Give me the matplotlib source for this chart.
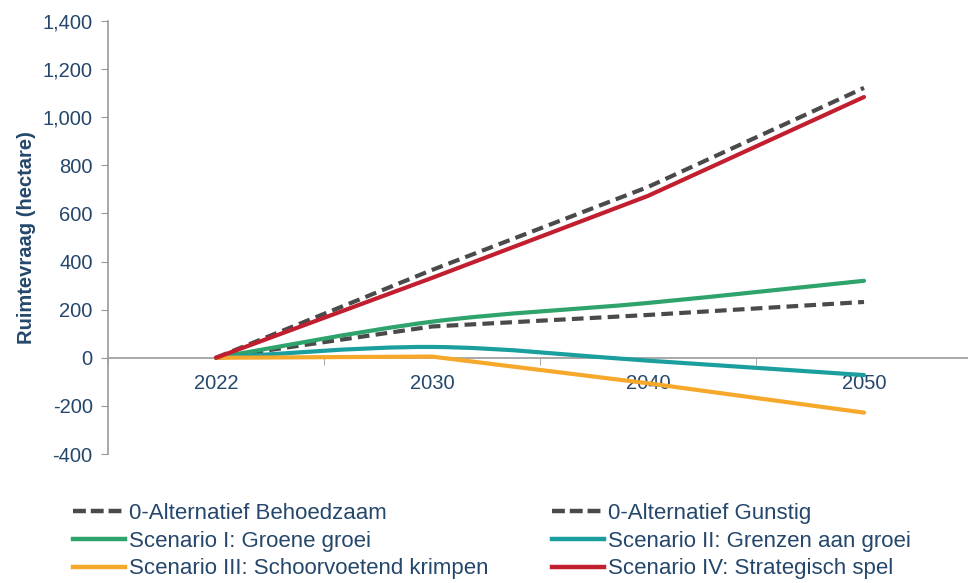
import matplotlib
matplotlib.use("Agg")
import matplotlib.pyplot as plt
from matplotlib.path import Path
from matplotlib.patches import PathPatch
from matplotlib.lines import Line2D
import numpy as np

plt.rcParams['font.family'] = ['Liberation Sans', 'DejaVu Sans']

years = ["2022", "2030", "2040", "2050"]
behoedzaam = [0, 130, 178, 232]
gunstig = [0, 365, 710, 1122]
groene_groei = [0, 150, 228, 320]
grenzen_groei = [0, 45, -12, -72]
schoorvoetend = [0, 5, -106, -228]
strategisch = [0, 332, 673, 1084]

labels = ["0-Alternatief Behoedzaam", "0-Alternatief Gunstig",
          "Scenario I: Groene groei", "Scenario II: Grenzen aan groei",
          "Scenario III: Schoorvoetend krimpen", "Scenario IV: Strategisch spel"]

yticks = [-400, -200, 0, 200, 400, 600, 800, 1000, 1200, 1400]

c_dash = "#4a4a4a"
c_green = "#2ea36b"
c_teal = "#1b9e9e"
c_orange = "#f5a82a"
c_red = "#c11f30"
c_text = "#24476b"
c_axis = "#9a9a9a"

fig = plt.figure(figsize=(9.68, 5.83), dpi=100)
ax = fig.add_axes([108/968, 1-454/583, 864/968, (454-21)/583])

x = np.arange(len(years))
lw = 3.0
dash = (2.8, 1.5)


def smooth_path(xs, ys):
    pts = np.column_stack([xs, ys]).astype(float)
    n = len(pts)
    verts = [pts[0]]
    codes = [Path.MOVETO]
    for i in range(n - 1):
        p0 = pts[i - 1] if i > 0 else pts[i]
        p1 = pts[i]
        p2 = pts[i + 1]
        p3 = pts[i + 2] if i + 2 < n else pts[i + 1]
        c1 = p1 + (p2 - p0) / 6.0
        c2 = p2 - (p3 - p1) / 6.0
        verts += [c1, c2, p2]
        codes += [Path.CURVE4] * 3
    return Path(verts, codes)


ax.plot(x, behoedzaam, color=c_dash, lw=lw, dashes=dash, zorder=3)
ax.plot(x, gunstig, color=c_dash, lw=lw, dashes=dash, zorder=3)
ax.add_patch(PathPatch(smooth_path(x, groene_groei), facecolor='none', edgecolor=c_green,
                       lw=lw, capstyle='round', zorder=4))
ax.add_patch(PathPatch(smooth_path(x, grenzen_groei), facecolor='none', edgecolor=c_teal,
                       lw=lw, capstyle='round', zorder=4))
ax.plot(x, schoorvoetend, color=c_orange, lw=lw, solid_capstyle='round', zorder=4)
ax.plot(x, strategisch, color=c_red, lw=lw, solid_capstyle='round', zorder=5)

ax.set_xlim(-0.5, 3.5)
ax.set_ylim(-400, 1400)

for s in ['top', 'right']:
    ax.spines[s].set_visible(False)
ax.spines['bottom'].set_position(('data', 0))
ax.spines['bottom'].set_color(c_axis)
ax.spines['left'].set_color(c_axis)
ax.spines['bottom'].set_linewidth(1.2)
ax.spines['left'].set_linewidth(1.2)

ax.set_yticks(yticks)
ax.set_yticklabels([f"{v:,}" for v in yticks])
ax.tick_params(axis='y', direction='out', length=5, color=c_axis, labelsize=14.5,
               labelcolor=c_text, pad=6)

ax.set_xticks(x)
ax.set_xticklabels(years)
ax.set_xticks(np.arange(-0.5, 4.0, 1.0), minor=True)
ax.tick_params(axis='x', which='major', length=0, labelsize=14.5, labelcolor=c_text, pad=12)
ax.tick_params(axis='x', which='minor', direction='out', length=5, color=c_axis)

ax.set_ylabel("Ruimtevraag (hectare)", fontsize=14.5, fontweight='bold', color=c_text)
ax.yaxis.set_label_coords(-72/864, 0.5)

leg_dash = (2.9, 1.1)
h_beh = Line2D([], [], color=c_dash, lw=3.2, dashes=leg_dash)
h_gun = Line2D([], [], color=c_dash, lw=3.2, dashes=leg_dash)
h_gr = Line2D([], [], color=c_green, lw=3.2)
h_te = Line2D([], [], color=c_teal, lw=3.2)
h_or = Line2D([], [], color=c_orange, lw=3.2)
h_red = Line2D([], [], color=c_red, lw=3.2)

common = dict(frameon=False, fontsize=16, handlelength=2.35, handletextpad=0.15,
              labelspacing=0.3, labelcolor=c_text, loc='upper left', borderaxespad=0,
              borderpad=0)
fig.legend([h_beh, h_gr, h_or], [labels[0], labels[2], labels[4]],
           bbox_to_anchor=(73/968, 1-503/583), **common)
fig.legend([h_gun, h_te, h_red], [labels[1], labels[3], labels[5]],
           bbox_to_anchor=(552/968, 1-503/583), **common)

fig.savefig("out.png", dpi=100)
